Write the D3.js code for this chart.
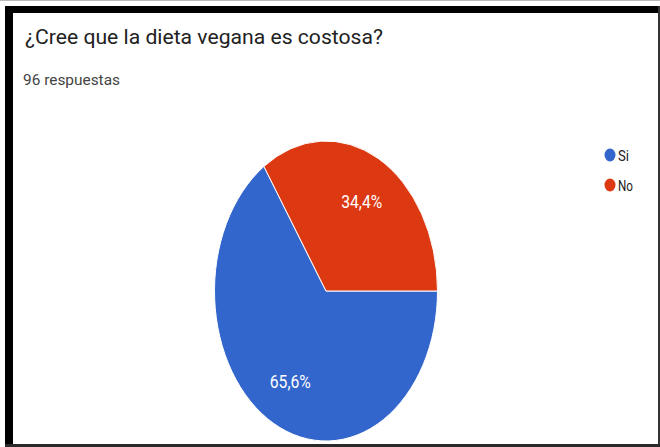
<!DOCTYPE html>
<html>
<head>
<meta charset="utf-8">
<script src="https://cdn.jsdelivr.net/npm/d3@7"></script>
<style>
  body { margin: 0; background: #fff; }
  svg { display: block; font-family: Roboto, "Noto Sans", sans-serif; }
</style>
</head>
<body>
<svg id="chart"></svg>
<script>
// ---------- data ----------
var categories = ["Si", "No"];
var values = [65.6, 34.4];
var pctLabels = ["65,6%", "34,4%"];
var colors = ["#3366cc", "#dc3912"];
var title = "¿Cree que la dieta vegana es costosa?";
var subtitle = "96 respuestas";

var screen = {width: 660, height: 447};
var svg = d3.select("#chart")
  .attr("width", screen.width)
  .attr("height", screen.height);

// ---------- frame (screenshot border) ----------
svg.append("rect").attr("x", 0).attr("y", 0).attr("width", 660).attr("height", 1).attr("fill", "#bbb");
svg.append("rect").attr("x", 5).attr("y", 6).attr("width", 655).attr("height", 7).attr("fill", "#000");
svg.append("rect").attr("x", 5).attr("y", 6).attr("width", 8).attr("height", 441).attr("fill", "#000");
svg.append("rect").attr("x", 658).attr("y", 6).attr("width", 2).attr("height", 441).attr("fill", "#333");
svg.append("rect").attr("x", 5).attr("y", 444).attr("width", 655).attr("height", 3).attr("fill", "#2a2a2a");

// ---------- texts ----------
var addText = function (txt, x, y, size, len, color, anchor) {
  return svg.append("text")
    .text(txt)
    .attr("x", x)
    .attr("y", y)
    .attr("font-size", size)
    .attr("fill", color)
    .attr("text-anchor", anchor || "start")
    .attr("textLength", len)
    .attr("lengthAdjust", "spacingAndGlyphs");
};
addText(title, 25, 44, 21, 358, "#222");
addText(subtitle, 23, 85, 14.5, 97, "#444");

// ---------- pie ----------
var center = {x: 326, y: 291};
var rx = 111.5, ry = 150;

var pie = d3.pie()
  .sort(null)
  .value(function (d) { return d; })
  .startAngle(Math.PI / 2)
  .endAngle(Math.PI / 2 + 2 * Math.PI);
var arcs = pie(values);

var arc = d3.arc().innerRadius(0).outerRadius(rx);
var labelArc = d3.arc().innerRadius(rx * 0.68).outerRadius(rx * 0.68);

var g = svg.append("g")
  .attr("transform", "translate(" + center.x + "," + center.y + ") scale(1," + (ry / rx) + ")");

g.selectAll("path")
  .data(arcs)
  .enter()
  .append("path")
  .attr("d", arc)
  .attr("fill", function (d, i) { return colors[i]; })
  .attr("stroke", "#fff")
  .attr("stroke-width", 1)
  .attr("vector-effect", "non-scaling-stroke");

arcs.forEach(function (d, i) {
  var c = labelArc.centroid(d);
  addText(pctLabels[i], center.x + c[0], center.y + c[1] * (ry / rx) + 7, 19, 41, "#fff", "middle");
});

// ---------- legend ----------
var legend = svg.append("g").attr("transform", "translate(610,155)");
categories.forEach(function (c, i) {
  legend.append("ellipse")
    .attr("cx", 0)
    .attr("cy", i * 30)
    .attr("rx", 5.5)
    .attr("ry", 6.5)
    .attr("fill", colors[i]);
  legend.append("text")
    .text(c)
    .attr("x", 8)
    .attr("y", i * 30 + 5.5)
    .attr("font-size", 15)
    .attr("fill", "#222")
    .attr("textLength", i === 0 ? 11 : 15)
    .attr("lengthAdjust", "spacingAndGlyphs");
});
</script>
</body>
</html>
